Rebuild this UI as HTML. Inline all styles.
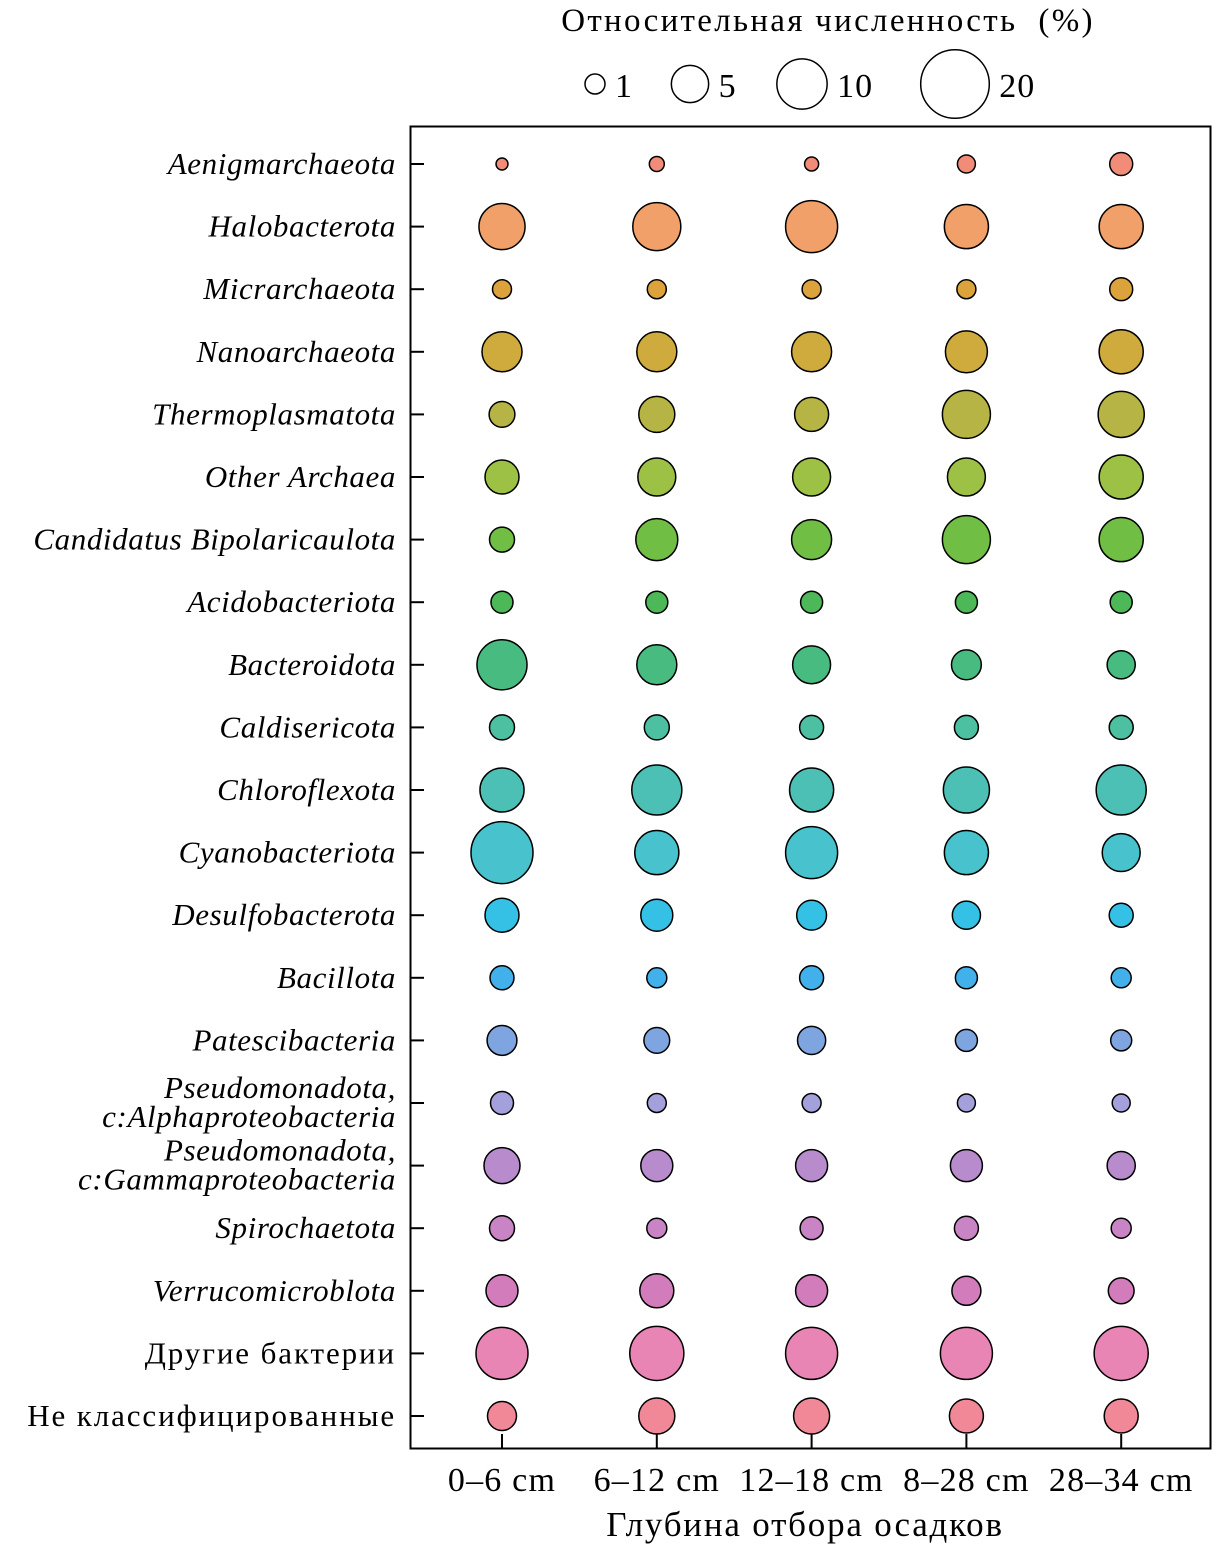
<!DOCTYPE html>
<html><head><meta charset="utf-8"><style>
body{margin:0;background:#fff;}
svg{display:block;font-family:"Liberation Serif","DejaVu Serif",serif;}
</style></head><body>
<svg id="chart" width="1221" height="1560" viewBox="0 0 1221 1560" xmlns="http://www.w3.org/2000/svg">
<text x="828" y="31" font-size="33" letter-spacing="2.3" text-anchor="middle" xml:space="preserve">Относительная численность  (%)</text>
<g id="legend"></g>
<rect x="410.5" y="126.5" width="800" height="1322" fill="none" stroke="#000" stroke-width="2"/>
<g id="yaxis"></g>
<g id="xaxis"></g>
<g id="marks"></g>
<text x="805" y="1536" font-size="35" letter-spacing="1.8" text-anchor="middle">Глубина отбора осадков</text>
</svg>
<script>
const categories=["Aenigmarchaeota","Halobacterota","Micrarchaeota","Nanoarchaeota","Thermoplasmatota","Other Archaea","Candidatus Bipolaricaulota","Acidobacteriota","Bacteroidota","Caldisericota","Chloroflexota","Cyanobacteriota","Desulfobacterota","Bacillota","Patescibacteria","Pseudomonadota,|c:Alphaproteobacteria","Pseudomonadota,|c:Gammaproteobacteria","Spirochaetota","Verrucomicroblota","Другие бактерии","Не классифицированные"];
const depths=["0–6 cm","6–12 cm","12–18 cm","8–28 cm","28–34 cm"];
const depth0=[0.18,8.2,0.86,5.9,2.0,4.0,1.84,1.31,9.9,1.84,7.4,16,4.0,1.65,2.9,1.47,4.6,1.84,3.45,10.8,2.7];
const depth1=[0.41,9.0,0.86,5.9,4.6,5.2,6.6,1.31,5.9,1.84,9.9,7.4,3.45,1.0,2.0,0.86,3.45,1.0,4.0,11.8,4.6];
const depth2=[0.33,10.8,0.86,5.9,4.0,5.2,5.9,1.31,5.2,1.65,7.4,10.8,2.9,1.65,2.5,0.86,3.45,1.47,3.45,10.8,4.6];
const depth3=[0.73,7.4,0.86,6.6,9.0,5.2,9.0,1.31,2.9,1.65,8.2,7.4,2.5,1.31,1.31,0.73,3.45,1.65,2.7,10.8,4.0];
const depth4=[1.47,7.4,1.47,7.4,8.2,7.4,7.4,1.31,2.5,1.65,9.9,5.2,1.65,1.0,1.15,0.73,2.5,1.0,2.0,11.8,4.0];
const legendValues=[1,5,10,20];
const colors=["#f08c78","#f0a068","#dca23c","#cfaa3c","#b5b444","#9cc144","#70bf44","#4cb857","#48bb80","#4cc0a0","#4cc0b5","#48c2cc","#35c0e6","#42b0ea","#7ea5e0","#a4a0dc","#b88ccc","#c884c4","#d27cbc","#e885b4","#f08898"];
const series=[depth0,depth1,depth2,depth3,depth4];
const NS="http://www.w3.org/2000/svg";
function mk(t,a,p){const e=document.createElementNS(NS,t);for(const k in a)e.setAttribute(k,a[k]);p.appendChild(e);return e;}
const xPos=i=>502+i*154.8;
const yPos=j=>164+j*62.6;
const rad=v=>3+7*Math.sqrt(v);
const yaxis=document.getElementById('yaxis'),xaxis=document.getElementById('xaxis'),marks=document.getElementById('marks'),legend=document.getElementById('legend');
categories.forEach((c,j)=>{
  const y=yPos(j);
  const tk=mk('line',{x1:410,x2:424,y1:y,y2:y,stroke:'#000','stroke-width':2},yaxis);
  
  
  const italic=!/[А-Яа-я]/.test(c);
  const parts=c.split('|');
  parts.forEach((p,k)=>{
    const t=mk('text',{x:396,y:y+10+(parts.length>1?(k===0?-15:14):0),'font-size':31,'letter-spacing':italic?0.6:1.9,'text-anchor':'end','font-style':italic?'italic':'normal'},yaxis);
    t.textContent=p;
    
    
  });
});
depths.forEach((d,i)=>{
  const x=xPos(i);
  const tk=mk('line',{x1:x,x2:x,y1:1448,y2:1434,stroke:'#000','stroke-width':2},xaxis);
  
  
  const t=mk('text',{x:x,y:1491,'font-size':34,'letter-spacing':1.2,'text-anchor':'middle'},xaxis);
  t.textContent=d;
  
  
});
series.forEach((s,i)=>{s.forEach((v,j)=>{
  const c=mk('circle',{cx:xPos(i),cy:yPos(j),r:rad(v),fill:colors[j],stroke:'#000','stroke-width':1.5},marks);
  
  
});});
const legX=[595,690,802,955];
legendValues.forEach((v,k)=>{
  const r=rad(v);
  const c=mk('circle',{cx:legX[k],cy:84,r:r,fill:'#fff',stroke:'#000','stroke-width':1.5},legend);
  
  
  const t=mk('text',{x:legX[k]+r+10,y:97,'font-size':34,'letter-spacing':1},legend);
  t.textContent=v;
  
  
});
</script>
</body></html>
